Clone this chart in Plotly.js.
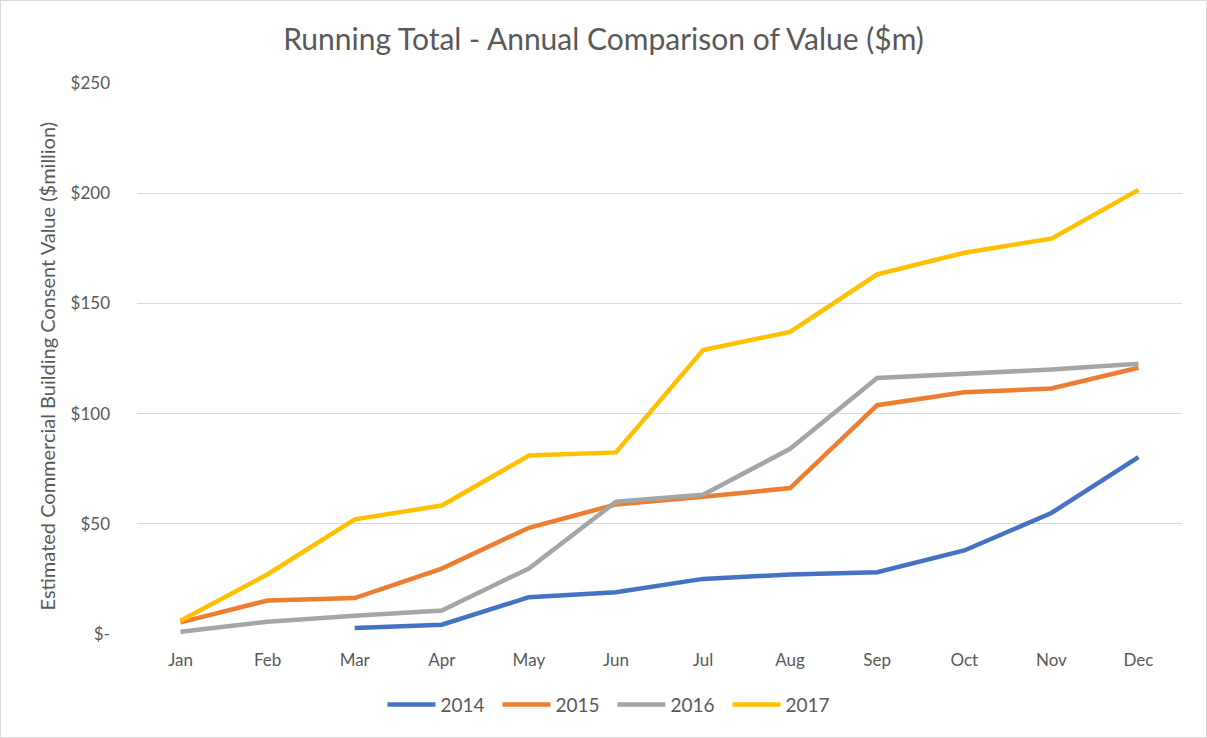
<!DOCTYPE html>
<html>
<head>
<meta charset="utf-8">
<script src="https://cdn.plot.ly/plotly-3.0.1.min.js"></script>
<style>
  html, body { margin: 0; padding: 0; background: #fff; }
  #chart { width: 1205px; height: 736px; border: 1px solid #d9d9d9; }
</style>
</head>
<body>
<div id="chart"></div>
<script>
const months = ["Jan", "Feb", "Mar", "Apr", "May", "Jun", "Jul", "Aug", "Sep", "Oct", "Nov", "Dec"];

// running totals, $million
const values2014 = [null, null, 2.7, 4.2, 16.7, 18.9, 25, 27, 28, 37.9, 54.9, 80.3];
const values2015 = [5.3, 15.2, 16.3, 29.7, 48.2, 58.8, 62.3, 66.2, 103.8, 109.7, 111.4, 120.8];
const values2016 = [1, 5.6, 8.3, 10.7, 29.7, 60, 63.2, 84, 116.2, 118.2, 120, 122.6];
const values2017 = [6, 27.1, 52, 58.3, 81, 82.4, 128.8, 137.1, 163.2, 173, 179.4, 201.5];

const yTickVals = [0, 50, 100, 150, 200, 250];
const yTickText = ["$-", "$50", "$100", "$150", "$200", "$250"];

const series = [
  { name: "2014", y: values2014, color: "#4472C4" },
  { name: "2015", y: values2015, color: "#ED7D31" },
  { name: "2016", y: values2016, color: "#A5A5A5" },
  { name: "2017", y: values2017, color: "#FFC000" },
];

const traces = series.map((s) => ({
  x: months,
  y: s.y,
  name: s.name,
  type: "scatter",
  mode: "lines",
  connectgaps: false,
  line: { color: s.color, width: 4.5 },
}));

const textColor = "#595959";

const layout = {
  width: 1205,
  height: 736,
  paper_bgcolor: "#fff",
  plot_bgcolor: "#fff",
  font: { family: "Lato, 'Open Sans', sans-serif", color: textColor, size: 17 },
  title: {
    text: "Running Total - Annual Comparison of Value ($m)",
    font: { size: 30, color: textColor },
    x: 0.5,
    xanchor: "center",
    y: 0.948,
    yanchor: "middle",
  },
  margin: { l: 136, r: 24, t: 82, b: 103 },
  xaxis: {
    type: "category",
    range: [-0.5, 11.5],
    showgrid: false,
    showline: false,
    zeroline: false,
    ticks: "",
    ticklabelstandoff: 14,
    tickfont: { size: 17, color: textColor },
  },
  yaxis: {
    range: [0, 250],
    tickvals: yTickVals,
    ticktext: yTickText,
    showgrid: true,
    gridcolor: "#d9d9d9",
    gridwidth: 1,
    zeroline: false,
    showline: false,
    ticks: "",
    ticklabelstandoff: 26,
    tickfont: { size: 17, color: textColor },
  },
  annotations: [
    {
      text: "Estimated Commercial Building Consent Value ($million)",
      textangle: -90,
      xref: "paper",
      yref: "paper",
      x: 0,
      y: 0.5,
      xanchor: "center",
      yanchor: "middle",
      xshift: -91,
      yshift: -8,
      showarrow: false,
      font: { size: 20, color: textColor },
    },
  ],
  showlegend: true,
  legend: {
    orientation: "h",
    x: 0.455,
    xanchor: "center",
    y: -0.128,
    yanchor: "middle",
    font: { size: 19, color: textColor },
    itemwidth: 48,
    entrywidth: 52,
    entrywidthmode: "pixels",
  },
};

Plotly.newPlot("chart", traces, layout, { displayModeBar: false, responsive: false });
</script>
</body>
</html>
